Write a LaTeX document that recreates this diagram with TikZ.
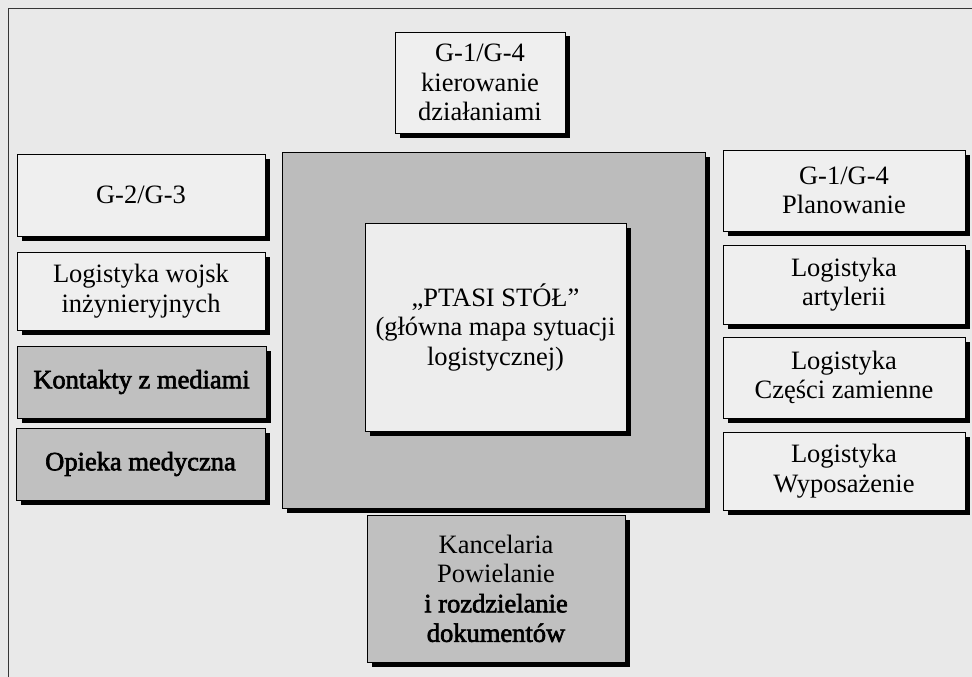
\documentclass[tikz,border=0pt]{standalone}
\usepackage{fontspec}
\setmainfont{Liberation Serif}
\newfontfamily\heavyish[FakeBold=2.4]{Liberation Serif}
\usetikzlibrary{shadows}
\definecolor{bgcol}{RGB}{233,233,233}
\definecolor{boxwhite}{RGB}{239,239,239}
\definecolor{boxgray}{RGB}{192,192,192}
\definecolor{outergray}{RGB}{188,188,188}
\definecolor{innerwhite}{RGB}{237,237,237}
\definecolor{framecol}{RGB}{55,55,55}
\tikzset{
  box/.style={draw=black, line width=0.8pt, fill=boxwhite, align=center,
    inner sep=0pt, font=\fontsize{26.5}{29.5}\selectfont,
    drop shadow={shadow xshift=4.5pt, shadow yshift=-4.5pt, fill=black, opacity=1}},
  graybox/.style={box, fill=boxgray},
}
\begin{document}
\begin{tikzpicture}[x=1pt,y=-1pt]
\useasboundingbox (0,0) rectangle (972,677);
\fill[bgcol] (0,0) rectangle (972,677);
\coordinate (fbl) at (8.5,677);
\coordinate (ftl) at (8.5,8.5);
\coordinate (ftr) at (972,8.5);
\draw[framecol, line width=1.3pt] (fbl) -- (ftl) -- (ftr);

\node[box, minimum width=170pt, minimum height=101pt] (kier) at (480,82.5)
  {G-1/G-4\\kierowanie\\działaniami};

\node[box, minimum width=248pt, minimum height=82pt] (g23) at (141,195) {G-2/G-3};
\node[box, minimum width=248pt, minimum height=78pt] (inz) at (141,291)
  {Logistyka wojsk\\inżynieryjnych};
\node[graybox, minimum width=249pt, minimum height=72pt] (media) at (141.5,382)
  {\heavyish Kontakty z mediami};
\node[graybox, minimum width=249pt, minimum height=72pt] (opieka) at (140.5,464)
  {\heavyish Opieka medyczna};

\node[box, minimum width=242pt, minimum height=81pt] (plan) at (844,190.5)
  {G-1/G-4\\Planowanie};
\node[box, minimum width=242pt, minimum height=79pt] (art) at (844,284.5)
  {Logistyka\\artylerii};
\node[box, minimum width=242pt, minimum height=81pt] (czesci) at (844,377.5)
  {Logistyka\\Części zamienne};
\node[box, minimum width=242pt, minimum height=78pt] (wypos) at (844,471)
  {Logistyka\\Wyposażenie};

\node[box, fill=outergray, minimum width=423pt, minimum height=356pt] (outer) at (493.5,330) {};
\node[box, fill=innerwhite, minimum width=261pt, minimum height=208pt] (stol) at (495.5,327)
  {„PTASI STÓŁ”\\(główna mapa sytuacji\\logistycznej)};

\node[graybox, minimum width=258pt, minimum height=147pt] (kanc) at (496,588.5)
  {Kancelaria\\Powielanie\\{\heavyish i rozdzielanie}\\{\heavyish dokumentów}};
\end{tikzpicture}
\end{document}
